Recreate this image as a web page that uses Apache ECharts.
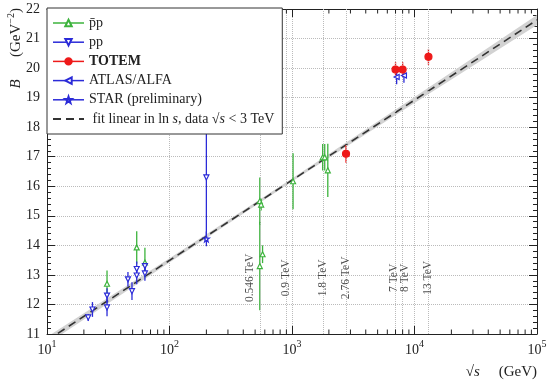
<!DOCTYPE html>
<html><head><meta charset="utf-8">
<script src="https://cdn.jsdelivr.net/npm/echarts@6/dist/echarts.min.js"></script>
<style>html,body{margin:0;padding:0;background:#fff}#c{width:550px;height:384px}</style>
</head><body><div id="c"></div>
<script>
// ---- data ----
const ppbarS   = [30.9, 54, 63, 546, 560, 546, 575, 1020, 1780, 1850, 1960];
const ppbarB   = [12.7, 13.93, 13.42, 15.5, 15.38, 13.3, 13.7, 16.17, 16.98, 16.98, 16.54];
const ppbarErr = [0.45, 0.55, 0.5, 0.8, 0.2, 1.5, 0.3, 0.95, 0.45, 0.45, 0.9];

const ppS   = [21.7, 23.5, 30.9, 30.9, 45.8, 49.4, 54, 54, 63, 63, 200];
const ppB   = [11.56, 11.83, 12.3, 11.9, 12.85, 12.45, 13.2, 12.98, 13.05, 13.3, 16.3];
const ppErr = [0.12, 0.25, 0.25, 0.3, 0.25, 0.3, 0.25, 0.3, 0.25, 0.2, 2.0];

const totemS   = [2760, 7000, 8000, 13000];
const totemB   = [17.1, 19.95, 19.95, 20.38];
const totemErr = [0.3, 0.25, 0.25, 0.27];

const atlasS   = [7150, 8200];
const atlasB   = [19.7, 19.75];
const atlasErr = [0.25, 0.25];

const starS   = [200];
const starB   = [14.22];
const starErr = [0.25];

// fit line (linear in ln s) endpoints and its uncertainty band
const fitS = [10, 100000];
const fitB = [10.78, 21.63];
const bandS  = [10, 100, 1000, 10000, 100000];
const bandLo = [10.66, 13.42, 16.16, 18.82, 21.46];
const bandHi = [10.90, 13.56, 16.26, 19.02, 21.80];

// energy markers
const energyS    = [546, 900, 1800, 2760, 7000, 8000, 13000];
const energyText = ['0.546 TeV', '0.9 TeV', '1.8 TeV', '2.76 TeV', '7 TeV', '8 TeV', '13 TeV'];
const energyLabelB = 12.9;

// axis ticks
const xMinorTicks = [];
[10, 100, 1000, 10000].forEach(d => { for (let k = 2; k <= 9; k++) xMinorTicks.push(k * d); });

// ---- chart ----
const FONT = '"Liberation Serif", "DejaVu Serif", serif';
const GREEN = '#3db33d', BLUE = '#2b2bd8', RED = '#ee1a1a', DARK = '#222';
const chart = echarts.init(document.getElementById('c'), null, {renderer: 'canvas'});

const pts = (s, b) => s.map((v, i) => [v, b[i]]);
const bars = (s, b, e) => s.map((v, i) => [v, b[i] - e[i], b[i] + e[i]]);

function errSeries(id, s, b, e, color) {
  return {
    type: 'custom', name: id, data: bars(s, b, e), encode: {x: 0, y: [1, 2]}, z: 3, silent: true,
    renderItem: (p, api) => {
      const a = api.coord([api.value(0), api.value(1)]);
      const c = api.coord([api.value(0), api.value(2)]);
      return {type: 'line', shape: {x1: a[0], y1: a[1], x2: c[0], y2: c[1]}, style: {stroke: color, lineWidth: 1.3}};
    }
  };
}
function markSeries(name, s, b, color, symbol, rotate, size, filled) {
  return {
    type: 'line', name, data: pts(s, b), symbol, symbolRotate: rotate, symbolSize: size,
    showSymbol: true, showAllSymbol: true, color,
    lineStyle: {opacity: 0, color, width: 1.5},
    itemStyle: {color: filled ? color : '#fff', borderColor: color, borderWidth: 1.2},
    z: 5, emphasis: {disabled: true}, animation: false
  };
}
const STAR_PATH = 'path://M0,-10L2.35,-3.24L9.51,-3.09L3.8,1.24L5.88,8.09L0,4L-5.88,8.09L-3.8,1.24L-9.51,-3.09L-2.35,-3.24Z';

const axisLineStyle = {color: DARK, width: 1};
const supRich = {
  b: {fontFamily: FONT, fontSize: 14, color: DARK, verticalAlign: 'bottom', lineHeight: 18},
  s: {fontFamily: FONT, fontSize: 10, color: DARK, verticalAlign: 'top', lineHeight: 18}
};

const option = {
  animation: false,
  backgroundColor: '#fff',
  grid: {left: 47, right: 13, top: 9, bottom: 50},
  xAxis: [
    {type: 'log', logBase: 10, min: 10, max: 100000, position: 'bottom',
     axisLine: {lineStyle: axisLineStyle},
     axisTick: {inside: true, length: 8, lineStyle: axisLineStyle},
     axisLabel: {margin: 5, formatter: v => '{b|10}{s|' + Math.round(Math.log10(v)) + '}', rich: supRich},
     splitLine: {show: true, lineStyle: {type: 'dotted', color: '#bbb'}}},
    {type: 'log', logBase: 10, min: 10, max: 100000, position: 'top',
     axisLine: {lineStyle: axisLineStyle},
     axisTick: {inside: true, length: 8, lineStyle: axisLineStyle},
     axisLabel: {show: false}, splitLine: {show: false}}
  ],
  yAxis: [
    {type: 'value', min: 11, max: 22, interval: 1, position: 'left',
     axisLine: {show: true, lineStyle: axisLineStyle},
     axisTick: {show: true, inside: true, length: 8, lineStyle: axisLineStyle},
     minorTick: {show: true, splitNumber: 5, length: 4, lineStyle: axisLineStyle},
     axisLabel: {margin: 7, fontFamily: FONT, fontSize: 14, color: DARK},
     splitLine: {show: true, lineStyle: {type: 'dotted', color: '#bbb'}}},
    {type: 'value', min: 11, max: 22, interval: 1, position: 'right',
     axisLine: {show: true, lineStyle: axisLineStyle},
     axisTick: {show: true, inside: true, length: 8, lineStyle: axisLineStyle},
     minorTick: {show: true, splitNumber: 5, length: 4, lineStyle: axisLineStyle},
     axisLabel: {show: false}, splitLine: {show: false}}
  ],
  legend: {
    left: 47, top: 8, orient: 'vertical', itemWidth: 31, itemHeight: 8, itemGap: 5.2,
    padding: [8, 8, 8, 5], borderColor: '#333', borderWidth: 1, backgroundColor: '#fff', z: 10,
    textStyle: {fontFamily: FONT, fontSize: 14, color: DARK,
      rich: {a: {fontFamily: FONT, fontSize: 14, color: DARK}, i: {fontFamily: FONT, fontSize: 14, color: DARK, fontStyle: 'italic'}}},
    formatter: n => n === 'fit' ? '{a| fit linear in ln }{i|s}{a|, data √}{i|s}{a| < 3 TeV}' : n,
    data: [
      {name: 'p̄p', lineStyle: {opacity: 1, width: 1.5, color: GREEN}},
      {name: 'pp', lineStyle: {opacity: 1, width: 1.5, color: BLUE}},
      {name: 'TOTEM', lineStyle: {opacity: 1, width: 1.5, color: RED}, textStyle: {fontWeight: 'bold'}},
      {name: 'ATLAS/ALFA', lineStyle: {opacity: 1, width: 1.5, color: BLUE}},
      {name: 'STAR (preliminary)', lineStyle: {opacity: 1, width: 1.5, color: BLUE}},
      {name: 'fit', itemStyle: {opacity: 0}}
    ]
  },
  graphic: [
    {type: 'text', x: 15, y: 8, rotation: Math.PI / 2, z: 20,
     style: {text: '{i|B}{n|      (GeV}{s|−2}{n|)}', align: 'right', verticalAlign: 'middle',
       rich: {i: {fontFamily: FONT, fontSize: 15, fontStyle: 'italic', fill: DARK, verticalAlign: 'bottom', lineHeight: 18},
              n: {fontFamily: FONT, fontSize: 15, fill: DARK, verticalAlign: 'bottom', lineHeight: 18},
              s: {fontFamily: FONT, fontSize: 10, fill: DARK, verticalAlign: 'top', lineHeight: 18}}}},
    {type: 'text', x: 537, y: 372, z: 20,
     style: {text: '{r|√}{i|s}{n|     (GeV)}', align: 'right', verticalAlign: 'middle',
       rich: {r: {fontFamily: FONT, fontSize: 15, fill: DARK},
              i: {fontFamily: FONT, fontSize: 15, fontStyle: 'italic', fill: DARK},
              n: {fontFamily: FONT, fontSize: 15, fill: DARK}}}}
  ],
  series: [
    // uncertainty band of the fit
    {type: 'custom', name: 'band', silent: true, clip: true, z: 1,
     data: bandS.map((v, i) => [v, bandLo[i], bandHi[i]]), encode: {x: 0, y: [1, 2]},
     renderItem: (p, api) => {
       if (p.dataIndex !== 0) return null;
       const up = bandS.map((v, i) => api.coord([v, bandHi[i]]));
       const lo = bandS.map((v, i) => api.coord([v, bandLo[i]])).reverse();
       return {type: 'polygon', shape: {points: up.concat(lo)}, style: {fill: '#d2d2d2'}};
     }},
    // fit line, with energy guide lines
    {type: 'line', name: 'fit', data: pts(fitS, fitB), symbol: 'none', color: '#333', z: 2,
     lineStyle: {color: '#333', width: 1.6, type: [8, 5]}, clip: true,
     markLine: {silent: true, symbol: 'none', label: {show: false}, animation: false,
       lineStyle: {type: 'dotted', color: '#bbb', width: 1},
       data: energyS.map(v => ({xAxis: v}))}},
    // x-axis minor ticks (bottom and top)
    {type: 'custom', name: 'xminor', silent: true, z: 6, data: xMinorTicks.map(v => [v, 11]),
     renderItem: (p, api) => {
       const b = api.coord([api.value(0), 11]);
       const t = api.coord([api.value(0), 22]);
       return {type: 'group', children: [
         {type: 'line', shape: {x1: b[0], y1: b[1], x2: b[0], y2: b[1] - 4.5}, style: {stroke: DARK, lineWidth: 1}},
         {type: 'line', shape: {x1: t[0], y1: t[1], x2: t[0], y2: t[1] + 4.5}, style: {stroke: DARK, lineWidth: 1}}
       ]};
     }},
    // energy labels
    {type: 'scatter', name: 'elabels', silent: true, symbolSize: 0, z: 6,
     data: energyS.map((v, i) => ({value: [v, energyLabelB],
       label: {offset: i === 0 ? [0, -10] : (i === 4 ? [0, -2] : (i === 5 ? [0, 2] : [0, 0]))}})),
     label: {show: true, position: 'inside', rotate: 90, formatter: p => energyText[p.dataIndex],
       fontFamily: FONT, fontSize: 11.5, color: '#222'}},
    errSeries('e1', ppbarS, ppbarB, ppbarErr, GREEN),
    errSeries('e2', ppS, ppB, ppErr, BLUE),
    errSeries('e3', atlasS, atlasB, atlasErr, BLUE),
    errSeries('e4', starS, starB, starErr, BLUE),
    errSeries('e5', totemS, totemB, totemErr, RED),
    markSeries('p̄p', ppbarS, ppbarB, GREEN, 'triangle', 0, 5, false),
    markSeries('pp', ppS, ppB, BLUE, 'triangle', 180, 5, false),
    markSeries('ATLAS/ALFA', atlasS, atlasB, BLUE, 'triangle', 90, 5, false),
    markSeries('STAR (preliminary)', starS, starB, BLUE, STAR_PATH, 0, 6, false),
    markSeries('TOTEM', totemS, totemB, RED, 'circle', 0, 7, true)
  ]
};
chart.setOption(option);
</script>
</body></html>
